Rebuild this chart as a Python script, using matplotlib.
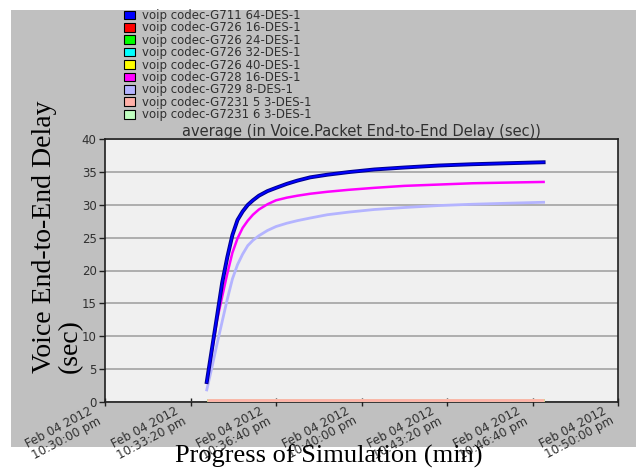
import numpy as np
import matplotlib
matplotlib.use("Agg")
import matplotlib.pyplot as plt
import matplotlib.dates as mdates
import matplotlib.patheffects as pe
import matplotlib.transforms as mtrans
from matplotlib.patches import Patch, Rectangle

# ---------------- data ----------------
start_time = np.datetime64("2012-02-04T22:30:00")
t_sec = [238, 250, 262, 274, 286, 298, 310, 322, 334, 346, 360, 380, 400, 425,
         450, 480, 520, 570, 630, 700, 780, 860, 940, 1026]

g711_64 = [3.0, 8.0, 13.0, 18.1, 22.0, 25.4, 27.7, 29.0, 30.0, 30.7, 31.4, 32.1,
           32.6, 33.2, 33.7, 34.2, 34.6, 35.0, 35.4, 35.7, 36.0, 36.2, 36.35, 36.5]
g728_16 = [2.9, 7.6, 12.4, 16.0, 19.5, 22.7, 24.9, 26.5, 27.6, 28.5, 29.3, 30.1,
           30.7, 31.1, 31.4, 31.7, 32.0, 32.3, 32.6, 32.9, 33.1, 33.3, 33.4, 33.5]
g729_8 = [1.8, 5.2, 8.8, 12.2, 15.6, 18.7, 20.9, 22.5, 23.8, 24.6, 25.3, 26.1,
          26.7, 27.2, 27.6, 28.0, 28.5, 28.9, 29.3, 29.6, 29.9, 30.1, 30.25, 30.4]
near_zero = [0.2] * len(t_sec)

labels = ["voip codec-G711 64-DES-1", "voip codec-G726 16-DES-1",
          "voip codec-G726 24-DES-1", "voip codec-G726 32-DES-1",
          "voip codec-G726 40-DES-1", "voip codec-G728 16-DES-1",
          "voip codec-G729 8-DES-1", "voip codec-G7231 5 3-DES-1",
          "voip codec-G7231 6 3-DES-1"]
colors = ["#0000ff", "#ff0000", "#00ff00", "#00ffff", "#ffff00", "#ff00ff",
          "#b4b4ff", "#ffb0a8", "#c0ffc0"]

tick_sec = [0, 200, 400, 600, 800, 1000, 1200]
tick_labels = ["Feb 04 2012\n10:30:00 pm", "Feb 04 2012\n10:33:20 pm",
               "Feb 04 2012\n10:36:40 pm", "Feb 04 2012\n10:40:00 pm",
               "Feb 04 2012\n10:43:20 pm", "Feb 04 2012\n10:46:40 pm",
               "Feb 04 2012\n10:50:00 pm"]
y_ticks = [0, 5, 10, 15, 20, 25, 30, 35, 40]

# ---------------- figure ----------------
W, H = 636, 468
fig = plt.figure(figsize=(W / 100, H / 100), dpi=100, facecolor="white")
fig.patches.append(Rectangle((11 / W, 1 - 447 / H), (W - 11) / W, (447 - 10) / H,
                             transform=fig.transFigure, facecolor="#c0c0c0",
                             edgecolor="none", zorder=-10))

ax = fig.add_axes([105 / W, 1 - 401.7 / H, (618 - 105) / W, (401.7 - 139.3) / H])
ax.set_facecolor("#f0f0f0")

times = start_time + np.array(t_sec).astype("timedelta64[s]")
tick_times = start_time + np.array(tick_sec).astype("timedelta64[s]")

# flat series near zero
series_zero = [(1, near_zero), (2, near_zero), (3, near_zero), (4, near_zero),
               (8, near_zero), (7, near_zero)]
for idx, vals in series_zero:
    ax.plot(times, vals, color=colors[idx], lw=2.0, solid_capstyle="butt", zorder=3)

ax.plot(times, g729_8, color=colors[6], lw=2.0, zorder=4)
ax.plot(times, g728_16, color=colors[5], lw=1.8, zorder=5)
ax.plot(times, g711_64, color=colors[0], lw=1.4, zorder=6,
        path_effects=[pe.Stroke(linewidth=2.8, foreground="#00008b"), pe.Normal()])

ax.set_xlim(tick_times[0], tick_times[-1])
ax.set_ylim(0, 40)
ax.set_xticks(tick_times)
ax.set_xticklabels([""] * len(tick_times))
ax.set_yticks(y_ticks)

# rotated two-line time labels, placed at each tick
offset = mtrans.ScaledTranslation(-14 / 100, -2 / 100, fig.dpi_scale_trans)
for t, lab in zip(tick_times, tick_labels):
    ax.text(mdates.date2num(t), 0, lab, transform=ax.get_xaxis_transform() + offset,
            rotation=28, rotation_mode="anchor", ha="right", va="top",
            multialignment="left", family="DejaVu Sans", fontsize=8.6,
            color="#303030", linespacing=0.9, clip_on=False)

for lab in ax.get_yticklabels():
    lab.set_fontfamily("DejaVu Sans")
    lab.set_fontsize(8.5)
    lab.set_color("#303030")

ax.tick_params(axis="both", direction="out", length=4, width=1, color="#202020", pad=2)
ax.tick_params(axis="x", direction="inout", length=6, pad=3)
ax.grid(axis="y", color="#a8a8a8", lw=1.3)
ax.set_axisbelow(True)
for s in ax.spines.values():
    s.set_color("#202020")
    s.set_linewidth(1.2)

ax.set_title("average (in Voice.Packet End-to-End Delay (sec))", fontsize=10.5,
             family="DejaVu Sans", color="#303030", pad=1)

# legend
handles = [Patch(facecolor=c, edgecolor="black", linewidth=0.8) for c in colors]
fig.legend(handles, labels, loc="upper left", bbox_to_anchor=(124 / W, 1 - 9 / H),
           frameon=False, prop={"family": "DejaVu Sans", "size": 8.5},
           handlelength=0.93, handleheight=0.76, handletextpad=0.6,
           labelspacing=-0.05, borderaxespad=0, borderpad=0,
           labelcolor="#303030")

fig.text(57 / W, 1 - 373 / H, "Voice End-to-End Delay\n(sec)", rotation=90,
         ha="center", va="bottom", multialignment="left",
         family="Liberation Serif", fontsize=20, linespacing=1.05)
fig.text(329 / W, 1 - 456 / H, "Progress of Simulation (min)", ha="center",
         va="center", family="Liberation Serif", fontsize=19)

fig.savefig("out.png", dpi=100, facecolor="white")
